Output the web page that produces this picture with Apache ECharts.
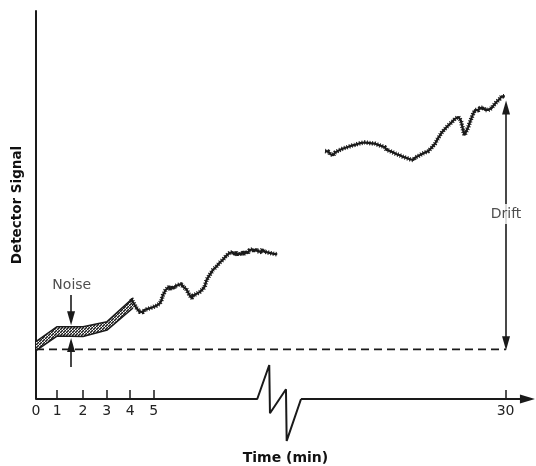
<!DOCTYPE html>
<html>
<head>
<meta charset="utf-8">
<script src="https://cdn.jsdelivr.net/npm/echarts@6/dist/echarts.min.js"></script>
<style>html,body{margin:0;padding:0;background:#fff;}#c{width:536px;height:466px;}</style>
</head>
<body>
<div id="c"></div>
<script>
// ---- data (x in plot-position units: 1 unit = 1 min before the axis break) ----
const tickPos = [0, 0.9, 2, 3, 4, 5, 19.95];
const tickLabels = ['0', '1', '2', '3', '4', '5', '30'];

const axisPathX = [0, 9.40, 9.91, 9.94, 10.62, 10.65, 11.26];
const axisPathY = [0, 0, 8.76, -3.69, 2.5, -10.8, 0];
const axisEnd = 20.88;

const baselineLevel = 12.8;
const baselineEndX = 19.97;

const bandX = [0, 0.89, 2.0, 3.02, 4.12];
const bandLow = [12.45, 16.24, 16.11, 17.78, 23.45];
const bandThick = [2.32, 2.39, 2.52, 2.14, 2.58];

const trace1X = [4.05,4.12,4.18,4.25,4.33,4.40,4.48,4.55,4.62,4.70,4.78,4.86,4.94,5.02,5.10,5.18,5.25,5.32,5.38,5.44,5.50,5.56,5.63,5.70,5.77,5.84,5.91,5.98,6.05,6.12,6.18,6.25,6.32,6.38,6.44,6.50,6.56,6.62,6.68,6.75,6.82,6.89,6.96,7.03,7.10,7.17,7.24,7.31,7.38,7.45,7.52,7.59,7.66,7.73,7.80,7.87,7.94,8.01,8.08,8.15,8.22,8.29,8.36,8.43,8.50,8.57,8.64,8.71,8.78,8.85,8.92,8.99,9.06,9.13,9.20,9.27,9.34,9.41,9.48,9.55,9.62,9.69,9.76,9.83,9.90,9.97,10.04,10.11,10.18,10.25];
const trace1Y = [25.9,25.0,24.9,23.6,23.3,22.5,23.0,22.4,23.0,22.6,23.3,22.9,23.6,23.2,24.0,23.7,24.6,25.2,26.6,26.9,28.0,27.9,28.9,28.3,29.0,28.4,29.1,28.6,29.4,28.9,29.6,28.9,29.3,28.4,27.9,27.0,26.8,26.0,26.7,26.3,27.1,26.7,27.6,27.2,28.4,29.0,30.6,30.8,32.0,32.0,33.3,33.0,34.1,33.9,35.1,34.8,35.9,35.8,36.9,36.5,37.6,37.1,37.9,37.1,37.8,37.0,37.7,37.1,37.9,37.3,38.1,37.5,38.3,37.8,38.6,38.0,38.7,38.1,38.5,37.9,38.6,38.0,38.5,37.8,38.3,37.6,38.1,37.4,37.8,37.3];

const trace2X = [12.28,12.35,12.42,12.50,12.57,12.63,12.70,12.77,12.84,12.91,12.98,13.05,13.12,13.20,13.27,13.34,13.41,13.48,13.55,13.62,13.69,13.76,13.83,13.90,13.97,14.05,14.12,14.19,14.26,14.33,14.40,14.47,14.54,14.61,14.68,14.75,14.82,14.89,14.96,15.04,15.11,15.18,15.25,15.32,15.39,15.46,15.53,15.60,15.67,15.75,15.82,15.89,15.96,16.03,16.10,16.17,16.24,16.31,16.38,16.45,16.52,16.60,16.67,16.74,16.81,16.88,16.95,17.02,17.09,17.16,17.23,17.30,17.37,17.44,17.51,17.59,17.66,17.73,17.80,17.87,17.94,18.01,18.05,18.10,18.15,18.20,18.25,18.30,18.36,18.43,18.50,18.58,18.65,18.72,18.79,18.86,18.93,19.00,19.07,19.14,19.21,19.28,19.36,19.43,19.50,19.57,19.64,19.71,19.78,19.85,19.92];
const trace2Y = [63.9,63.6,63.8,63.1,63.3,62.8,63.5,63.4,64.0,63.8,64.4,64.1,64.7,64.4,65.0,64.7,65.3,64.9,65.5,65.2,65.8,65.4,66.0,65.6,66.1,65.7,66.0,65.5,65.9,65.4,65.8,65.3,65.5,65.0,65.2,64.7,64.9,64.2,64.5,63.9,64.1,63.5,63.8,63.1,63.4,62.8,63.0,62.4,62.7,62.1,62.4,61.8,62.1,61.6,62.2,62.0,62.6,62.4,63.1,62.9,63.5,63.3,63.9,64.0,64.8,64.9,65.8,66.2,67.3,67.4,68.6,68.6,69.6,69.4,70.5,70.3,71.3,71.2,72.2,72.0,72.7,72.4,71.8,70.5,69.2,68.0,68.6,69.0,70.0,71.3,72.4,73.6,74.5,74.9,74.4,75.0,74.5,75.1,74.5,75.0,74.5,75.0,75.0,75.6,76.0,76.6,77.0,77.4,78.0,77.8,78.0];

const noiseDown = [[1.49, 26.8], [1.49, 20.8]];
const noiseUp = [[1.49, 8.25], [1.49, 13.9]];
const driftArrow = [[19.97, 14.4], [19.97, 75.1]];
const annotations = [[1.52, 29.4, 'Noise'], [19.97, 47.7, 'Drift']];

// ---- build ----
const zip = (xs, ys) => xs.map((x, i) => [x, ys[i]]);
const INK = '#1a1a1a';
const FONT = 'DejaVu Sans';

const pc = document.createElement('canvas');
pc.width = 3; pc.height = 3;
const g = pc.getContext('2d');
g.fillStyle = '#fff'; g.fillRect(0, 0, 3, 3);
g.strokeStyle = '#1a1a1a'; g.lineWidth = 1.5;
g.beginPath(); g.moveTo(-1, 4); g.lineTo(4, -1); g.stroke();

const arrowLine = (pts, both) => [{ coord: pts[0], symbol: both ? 'triangle' : 'none' }, { coord: pts[1], symbol: 'triangle' }];

const traceSeries = (xs, ys) => [
  { type: 'line', data: zip(xs, ys), symbol: 'none', silent: true, lineStyle: { color: INK, width: 2.2 } },
  { type: 'line', data: zip(xs, ys), symbol: 'none', silent: true, lineStyle: { color: INK, width: 4.5, type: [1, 1.6] } }
];

const chart = echarts.init(document.getElementById('c'), null, { renderer: 'canvas' });
chart.setOption({
  animation: false,
  backgroundColor: '#fff',
  grid: { left: 36, right: 1, top: 11, bottom: 67, containLabel: false, outerBoundsMode: 'none' },
  xAxis: {
    type: 'value', min: 0, max: 21.2,
    axisLine: { show: false },
    splitLine: { show: false },
    axisTick: { show: true, inside: true, length: 9, customValues: tickPos, lineStyle: { color: INK, width: 1.5 } },
    axisLabel: {
      show: true, customValues: tickPos, margin: 5, color: '#222', fontFamily: FONT, fontSize: 14,
      formatter: v => { let b = 0; tickPos.forEach((t, i) => { if (Math.abs(t - v) < Math.abs(tickPos[b] - v)) b = i; }); return tickLabels[b]; }
    },
    name: 'Time (min)', nameLocation: 'middle', nameGap: 52,
    nameTextStyle: { fontFamily: FONT, fontWeight: 'bold', fontSize: 14, color: '#111' }
  },
  yAxis: {
    type: 'value', min: 0, max: 100,
    axisLine: { show: true, lineStyle: { color: INK, width: 2 } },
    axisTick: { show: false }, axisLabel: { show: false }, splitLine: { show: false },
    name: 'Detector Signal', nameLocation: 'middle', nameGap: 12, nameRotate: 90,
    nameTextStyle: { fontFamily: FONT, fontWeight: 'bold', fontSize: 13.5, color: '#111' }
  },
  series: [
    {
      type: 'line', data: zip(axisPathX, axisPathY), clip: false, symbol: 'none', silent: true,
      lineStyle: { color: INK, width: 2 },
      markLine: {
        silent: true, animation: false, label: { show: false },
        symbolSize: [9, 15],
        lineStyle: { color: INK, width: 2, type: 'solid' },
        data: [[{ coord: [axisPathX[axisPathX.length - 1], 0], symbol: 'none' }, { coord: [axisEnd, 0], symbol: 'triangle' }]]
      }
    },
    {
      type: 'line', data: [[0, baselineLevel], [baselineEndX, baselineLevel]], symbol: 'none', silent: true,
      lineStyle: { color: INK, width: 1.6, type: [8, 5] },
      markLine: {
        silent: true, animation: false, label: { show: false },
        symbolSize: [8, 14],
        lineStyle: { color: INK, width: 1.6, type: 'solid' },
        data: [arrowLine(noiseDown, false), arrowLine(noiseUp, false), arrowLine(driftArrow, true)]
      }
    },
    {
      type: 'custom', silent: true, data: [[0, 0]], z: 3,
      renderItem: (params, api) => {
        const lo = bandX.map((x, i) => api.coord([x, bandLow[i]]));
        const up = bandX.map((x, i) => api.coord([x, bandLow[i] + bandThick[i]]));
        return {
          type: 'group',
          children: [
            { type: 'polygon', shape: { points: lo.concat(up.slice().reverse()) }, style: { fill: { image: pc, repeat: 'repeat' }, stroke: null } },
            { type: 'polyline', shape: { points: lo }, style: { stroke: INK, lineWidth: 1.6, fill: null } },
            { type: 'polyline', shape: { points: up }, style: { stroke: INK, lineWidth: 1.6, fill: null } }
          ]
        };
      }
    },
    ...traceSeries(trace1X, trace1Y),
    ...traceSeries(trace2X, trace2Y),
    {
      type: 'scatter', data: annotations, symbolSize: 1, silent: true, z: 10,
      itemStyle: { color: 'rgba(0,0,0,0)' },
      label: {
        show: true, position: 'inside', formatter: p => p.value[2],
        fontFamily: FONT, fontSize: 14, color: '#222',
        backgroundColor: '#fff', padding: [3, 1]
      }
    }
  ]
});
</script>
</body>
</html>
